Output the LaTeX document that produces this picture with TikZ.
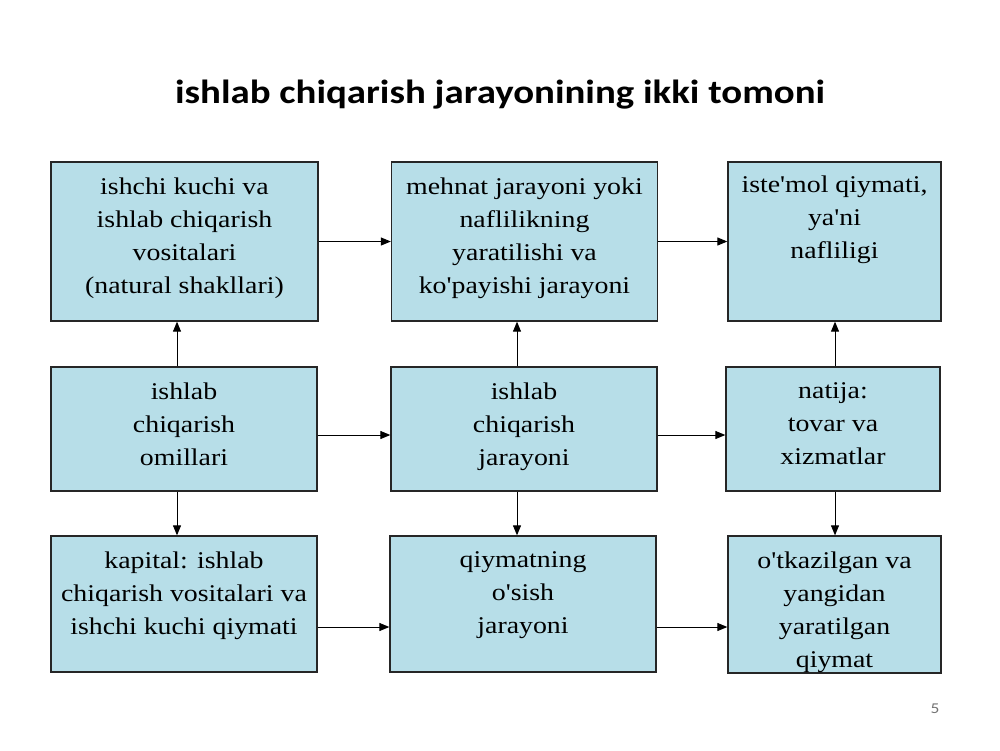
\documentclass[tikz,border=0pt]{standalone}
\usepackage{fontspec}
\setmainfont{Liberation Serif}[FakeStretch=1.16,Ligatures=TeXOff]
\newfontfamily\titlefont{Carlito}[FakeStretch=1.16]
\usetikzlibrary{arrows.meta,calc}
\definecolor{cellblue}{HTML}{B7DEE8}

\begin{document}
\begin{tikzpicture}[x=1pt,y=-1pt]
        \tikzset{cell/.style = {draw=black!85,line width=1.3pt,fill=cellblue,inner sep=0pt}}
        \tikzset{celltext/.style = {anchor=north,align=center,inner sep=0pt,font=\fontsize{24}{33}\selectfont}}
        \tikzset{link/.style = {-{Triangle[length=10pt,width=8pt]},line width=1pt}}
        \useasboundingbox (0,0) rectangle (1000,750);
        % title
        \node[anchor=base,font=\titlefont\bfseries\fontsize{33.5}{38}\selectfont] (title) at (500,103) {ishlab chiqarish jarayonining ikki tomoni};
        % boxes on the top row
        \node[cell,minimum width=267pt,minimum height=159pt] (sila) at (184.5,241.5) {};
        \node[cell,minimum width=266pt,minimum height=159pt] (mehnat) at (524.5,241.5) {};
        \node[cell,minimum width=213pt,minimum height=159pt] (istemol) at (834.5,241.5) {};
        % boxes in the middle row
        \node[cell,minimum width=266pt,minimum height=124pt] (omil) at (184,429) {};
        \node[cell,minimum width=266pt,minimum height=124pt] (jarayon) at (524,429) {};
        \node[cell,minimum width=214pt,minimum height=124pt] (natija) at (833,429) {};
        % boxes on the bottom row
        \node[cell,minimum width=266pt,minimum height=136pt] (kapital) at (184,604) {};
        \node[cell,minimum width=266pt,minimum height=136pt] (osish) at (523,604) {};
        \node[cell,minimum width=213pt,minimum height=137pt] (qiymat) at (834.5,604.5) {};
        % texts in the boxes
        \node[celltext] (sila-t) at ($(sila.north)+(0,16)$) {ishchi kuchi va\\ishlab chiqarish\\vositalari\\(natural shakllari)};
        \node[celltext] (mehnat-t) at ($(mehnat.north)+(0,16)$) {mehnat jarayoni yoki\\naflilikning\\yaratilishi va\\ko'payishi jarayoni};
        \node[celltext] (istemol-t) at ($(istemol.north)+(0,14)$) {iste'mol qiymati,\\ya'ni\\nafliligi};
        \node[celltext] (omil-t) at ($(omil.north)+(0,16)$) {ishlab\\chiqarish\\omillari};
        \node[celltext] (jarayon-t) at ($(jarayon.north)+(0,16)$) {ishlab\\chiqarish\\jarayoni};
        \node[celltext] (natija-t) at ($(natija.north)+(0,16)$) {natija:\\tovar va\\xizmatlar};
        \node[celltext] (kapital-t) at ($(kapital.north)+(0,16)$) {kapital: ishlab\\chiqarish vositalari va\\ishchi kuchi qiymati};
        \node[celltext] (osish-t) at ($(osish.north)+(0,16)$) {qiymatning\\o'sish\\jarayoni};
        \node[celltext] (qiymat-t) at ($(qiymat.north)+(0,16)$) {o'tkazilgan va\\yangidan\\yaratilgan\\qiymat};
        % arrows along the rows
        \draw[link] (sila) -- (mehnat);
        \draw[link] (mehnat) -- (istemol);
        \draw[link] ($(omil.east)+(0,6)$) -- ($(jarayon.west)+(0,6)$);
        \draw[link] ($(jarayon.east)+(0,6)$) -- ($(natija.west)+(0,6)$);
        \draw[link] ($(kapital.east)+(0,23)$) -- ($(osish.west)+(0,23)$);
        \draw[link] ($(osish.east)+(0,23)$) -- ($(qiymat.west)+(0,22.5)$);
        % arrows from the middle row
        \draw[link] ($(omil.north)+(-7,0)$) -- ($(sila.south)+(-7.5,0)$);
        \draw[link] ($(jarayon.north)+(-7,0)$) -- ($(mehnat.south)+(-7.5,0)$);
        \draw[link] ($(natija.north)+(2,0)$) -- ($(istemol.south)+(0.5,0)$);
        \draw[link] ($(omil.south)+(-7,0)$) -- ($(kapital.north)+(-7,0)$);
        \draw[link] ($(jarayon.south)+(-7,0)$) -- ($(osish.north)+(-6,0)$);
        \draw[link] ($(natija.south)+(2,0)$) -- ($(qiymat.north)+(0.5,0)$);
        % page number
        \node[font=\titlefont\fontsize{15}{15}\selectfont,text=black!55] (page) at (935,709) {5};
\end{tikzpicture}
\end{document}
